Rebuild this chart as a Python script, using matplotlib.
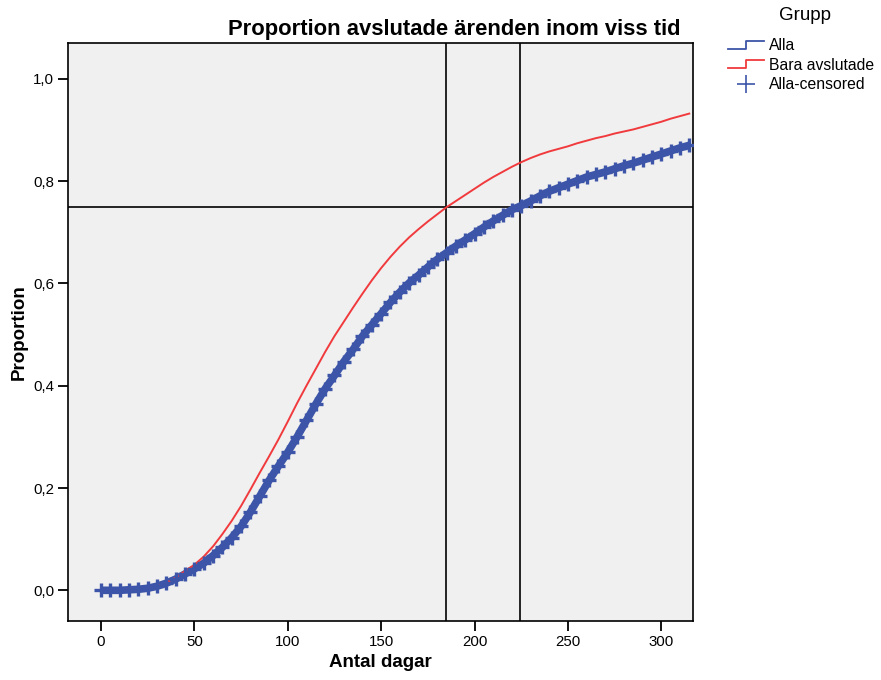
import matplotlib.pyplot as plt
from matplotlib.lines import Line2D
from matplotlib.legend_handler import HandlerBase
from matplotlib.ticker import FuncFormatter
import numpy as np

plt.rcParams['font.family'] = ['Liberation Sans', 'DejaVu Sans']

# dagar (var 5:e dag) och avlästa proportioner
dagar = list(range(0, 320, 5))
alla = [0.000, 0.000, 0.000, 0.001, 0.002, 0.004, 0.008, 0.014, 0.022, 0.032,
        0.042, 0.053, 0.068, 0.084, 0.103, 0.125, 0.153, 0.184, 0.215, 0.243,
        0.270, 0.300, 0.332, 0.364, 0.394, 0.420, 0.447, 0.471, 0.497, 0.519,
        0.541, 0.563, 0.583, 0.601, 0.616, 0.632, 0.647, 0.660, 0.673, 0.685,
        0.697, 0.710, 0.722, 0.733, 0.744, 0.752, 0.761, 0.771, 0.780, 0.787,
        0.794, 0.801, 0.808, 0.813, 0.818, 0.824, 0.830, 0.835, 0.841, 0.847,
        0.853, 0.859, 0.865, 0.870]
bara_avslutade = [0.000, 0.000, 0.000, 0.001, 0.002, 0.004, 0.008, 0.015, 0.025, 0.038,
                  0.050, 0.066, 0.086, 0.110, 0.136, 0.165, 0.197, 0.230, 0.262, 0.295,
                  0.330, 0.366, 0.400, 0.433, 0.466, 0.497, 0.525, 0.553, 0.580, 0.606,
                  0.630, 0.652, 0.672, 0.690, 0.706, 0.721, 0.735, 0.749, 0.761, 0.773,
                  0.785, 0.797, 0.808, 0.818, 0.828, 0.837, 0.845, 0.852, 0.858, 0.863,
                  0.868, 0.874, 0.879, 0.884, 0.888, 0.893, 0.897, 0.901, 0.906, 0.911,
                  0.916, 0.922, 0.927, 0.932]

ref_dagar = [184.8, 224.4]
ref_prop = 0.75

blue = '#3d55a8'
red = '#f03a3d'


class StepHandler(HandlerBase):
    def create_artists(self, legend, orig_handle, xdescent, ydescent,
                       width, height, fontsize, trans):
        xs = np.array([0, 0.5, 0.5, 1.0]) * width - xdescent
        ys = np.array([0.1, 0.1, 0.85, 0.85]) * height - ydescent
        l = Line2D(xs, ys, color=orig_handle.get_color(), lw=1.3)
        l.set_transform(trans)
        return [l]


fig = plt.figure(figsize=(8.81, 6.8), dpi=100)
ax = fig.add_axes([68/881, 1-621/680, 625/881, 578/680])
ax.set_facecolor('#f0f0f0')

for d in ref_dagar:
    ax.axvline(d, color='black', lw=1.2, zorder=1)
ax.axhline(ref_prop, color='black', lw=1.2, zorder=1)

l_alla, = ax.plot(dagar, alla, color=blue, lw=5.5, solid_capstyle='butt', zorder=2)
l_bara, = ax.plot(dagar, bara_avslutade, color=red, lw=1.4, zorder=3)
ax.plot(dagar, alla, ls='none', marker='+', color=blue,
        markersize=10, mew=2.4, zorder=4)

ax.set_xlim(-17.7, 317)
ax.set_ylim(-0.06, 1.07)
ax.set_xticks(range(0, 301, 50))
ax.set_yticks([0, 0.2, 0.4, 0.6, 0.8, 1.0])
ax.yaxis.set_major_formatter(FuncFormatter(lambda v, p: f'{v:.1f}'.replace('.', ',')))
ax.tick_params(direction='out', length=7, width=1.3, labelsize=10.8, pad=3)
for s in ax.spines.values():
    s.set_linewidth(1.2)

ax.set_xlabel('Antal dagar', fontsize=13.5, fontweight='bold', labelpad=4)
ax.set_ylabel('Proportion', fontsize=13.5, fontweight='bold', labelpad=4)
ax.set_title('Proportion avslutade ärenden inom viss tid', fontsize=15.8,
             fontweight='bold', x=0.618, pad=6)

# legend
cens = Line2D([], [], ls='none', marker='+', color=blue, markersize=13, mew=1.2)
fig.text(805/881, 1-15/680, 'Grupp', ha='center', va='center', fontsize=13.5)
fig.legend([l_alla, l_bara, cens], ['Alla', 'Bara avslutade', 'Alla-censored'],
           handler_map={l_alla: StepHandler(), l_bara: StepHandler()},
           loc='upper left', bbox_to_anchor=(720/881, 1-30/680), frameon=False,
           fontsize=11.3, borderpad=0, handlelength=2.3, handletextpad=0.3,
           labelspacing=0.3)

fig.savefig('out.png', dpi=100)
